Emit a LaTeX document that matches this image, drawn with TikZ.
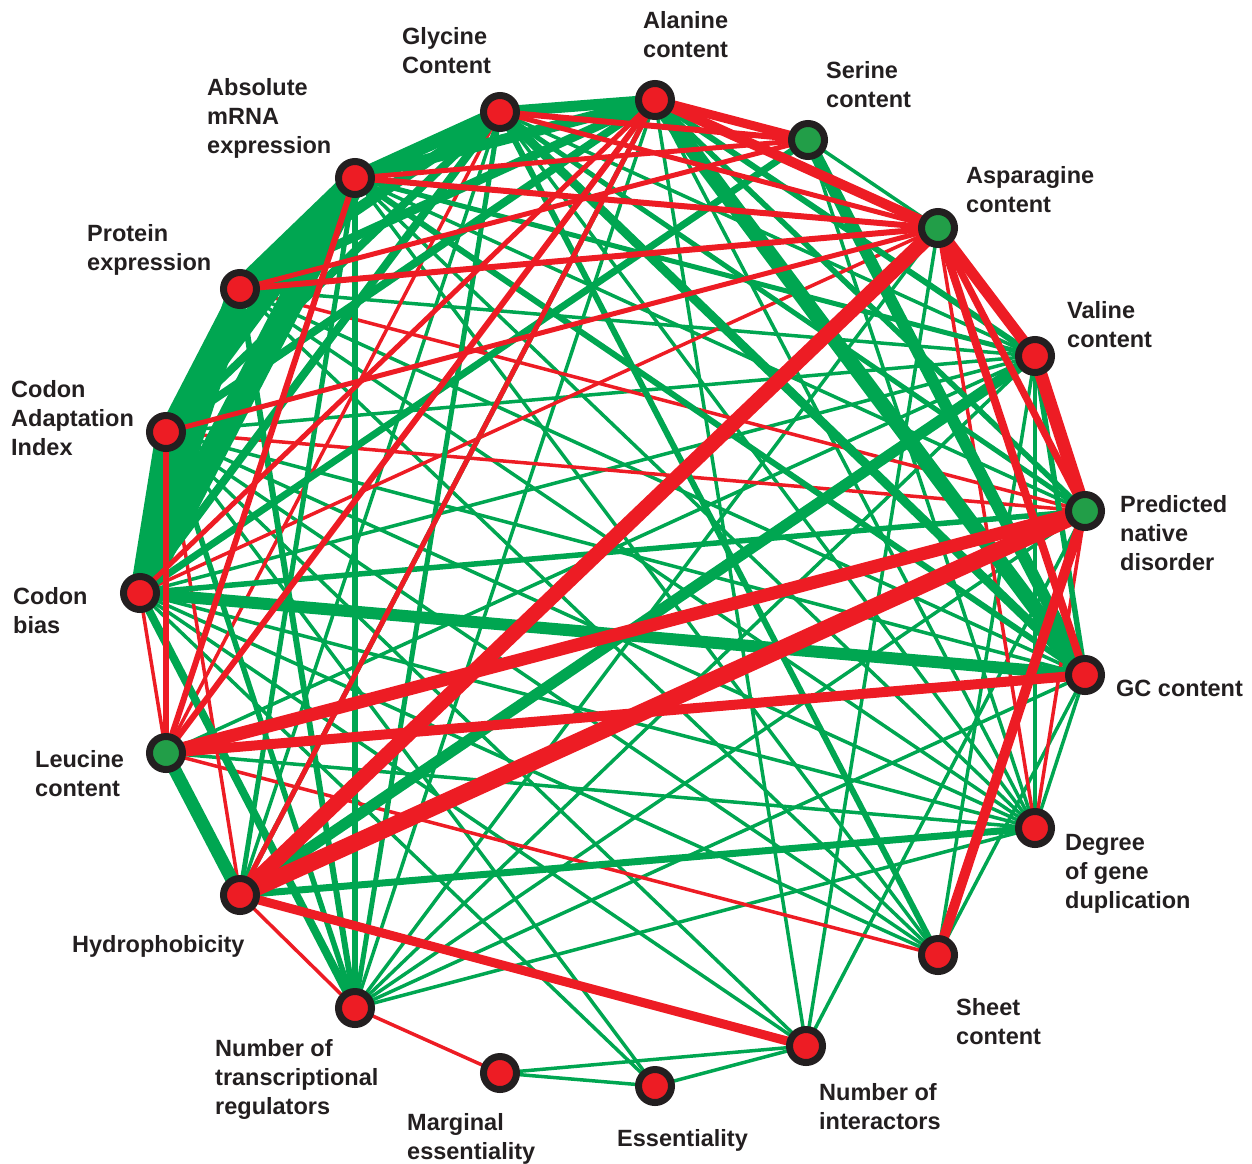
\documentclass[tikz,border=0pt]{standalone}
\usepackage{fontspec}
\setmainfont{Liberation Sans}
\definecolor{edgered}{RGB}{237,28,36}
\definecolor{edgegreen}{RGB}{0,166,81}
\definecolor{nodegreen}{RGB}{34,158,72}
\definecolor{ring}{RGB}{35,31,32}
\pgfdeclarelayer{edges}
\pgfsetlayers{edges,main}
\begin{document}
\begin{tikzpicture}[x=1pt, y=-1pt,
    vtx/.style={circle, draw=ring, line width=7pt, minimum size=33pt, inner sep=0pt},
    hit/.style={vtx, fill=edgered},
    neg/.style={vtx, fill=nodegreen},
    lbl/.style={anchor=north west, align=left, inner sep=0pt, text=ring, font=\fontsize{23.5}{29}\selectfont\bfseries},
    gr/.style={edgegreen},
    rd/.style={edgered}]
    \useasboundingbox (0,0) rectangle (1252,1163);
    % properties round the circle
    \node[hit] (ala) at (655,100) {};
    \node[neg] (ser) at (808,140) {};
    \node[neg] (asn) at (938,228) {};
    \node[hit] (val) at (1035,356) {};
    \node[neg] (dis) at (1085,511) {};
    \node[hit] (gc) at (1085,675) {};
    \node[hit] (dup) at (1035,828) {};
    \node[hit] (sht) at (938,955) {};
    \node[hit] (intr) at (806,1046) {};
    \node[hit] (ess) at (655,1086) {};
    \node[hit] (marg) at (500,1073) {};
    \node[hit] (treg) at (355,1008) {};
    \node[hit] (hyd) at (240,895) {};
    \node[neg] (leu) at (166,753) {};
    \node[hit] (cb) at (140,593) {};
    \node[hit] (cai) at (166,432) {};
    \node[hit] (pexp) at (240,289) {};
    \node[hit] (mrna) at (355,178) {};
    \node[hit] (gly) at (500,112) {};
    % labels
    \node[lbl] (ala-l) at (643,11) {Alanine\\content};
    \node[lbl] (gly-l) at (402,27) {Glycine\\Content};
    \node[lbl] (ser-l) at (826,61) {Serine\\content};
    \node[lbl] (asn-l) at (966,166) {Asparagine\\content};
    \node[lbl] (val-l) at (1067,301) {Valine\\content};
    \node[lbl] (dis-l) at (1120,495) {Predicted\\native\\disorder};
    \node[lbl] (gc-l) at (1116,680) {GC content};
    \node[lbl] (dup-l) at (1065,834) {Degree\\of gene\\duplication};
    \node[lbl] (sht-l) at (956,998) {Sheet\\content};
    \node[lbl] (intr-l) at (819,1083) {Number of\\interactors};
    \node[lbl] (ess-l) at (617,1129) {Essentiality};
    \node[lbl] (marg-l) at (407,1113) {Marginal\\essentiality};
    \node[lbl] (treg-l) at (215,1039) {Number of\\transcriptional\\regulators};
    \node[lbl] (hyd-l) at (72,935) {Hydrophobicity};
    \node[lbl] (leu-l) at (35,750) {Leucine\\content};
    \node[lbl] (cb-l) at (13,587) {Codon\\bias};
    \node[lbl] (cai-l) at (11,380) {Codon\\Adaptation\\Index};
    \node[lbl] (pexp-l) at (87,224) {Protein\\expression};
    \node[lbl] (mrna-l) at (207,78) {Absolute\\mRNA\\expression};
    \begin{pgfonlayer}{edges}
        % weak links
        \foreach \a/\b in {cb/dup, cb/sht, cb/intr, cb/ess, cb/val, cai/dup, cai/sht, cai/intr, cai/ess, cai/val, cai/gc,
            pexp/dup, pexp/sht, pexp/val, pexp/gc, mrna/dup, mrna/sht, mrna/dis, gly/dup, gly/val, gly/hyd,
            ala/intr, ala/dup, ala/leu, ala/treg, ser/asn, ser/dup, asn/treg, asn/intr, asn/gc, val/treg, val/leu,
            val/sht, val/dup, dis/intr, dis/treg, gc/dup, gc/sht, gc/treg, dup/treg, dup/leu, intr/marg, intr/ess, marg/ess}
            \draw[gr, line width=3.5pt] (\a.center) -- (\b.center);
        \foreach \a/\b in {cai/dis, cb/dis, pexp/dis, cb/asn, mrna/val, leu/sht, cb/leu, cai/hyd, hyd/treg,
            treg/marg, asn/dup, dis/dup, leu/gly}
            \draw[rd, line width=3.5pt] (\a.center) -- (\b.center);
        % stronger links
        \foreach \a/\b/\w in {cb/dis/5.5, cai/treg/5.5, pexp/treg/6, mrna/treg/6, gly/treg/5, mrna/gc/6, mrna/val/5,
            ala/val/6, ala/dis/5.5, gly/dis/5, val/gc/5.5, mrna/hyd/5, ala/hyd/5, gly/sht/6, cb/ser/7,
            cb/treg/8, hyd/dup/7, ser/gc/12, gly/gc/9, ala/gc/15, cb/gc/12, hyd/val/11, leu/hyd/13,
            cb/cai/20, cb/pexp/24, cb/mrna/26, cai/pexp/16, cai/mrna/18, pexp/mrna/20, mrna/gly/14, mrna/ala/11,
            gly/ala/11, pexp/gly/11, pexp/ala/9, cai/gly/8, cai/ala/8, cb/gly/8}
            \draw[gr, line width=\w pt] (\a.center) -- (\b.center);
        \foreach \a/\b/\w in {ala/ser/9, gly/ser/6, mrna/ser/5, pexp/ser/5, cb/ala/5, pexp/asn/6, mrna/asn/6,
            cai/asn/5, gly/asn/5, ala/asn/10, asn/dis/7,
            asn/gc/8, cai/leu/6, leu/ala/6, leu/mrna/6, hyd/ala/5,
            asn/val/11, val/dis/13, leu/dis/13, leu/gc/10, dis/sht/10, hyd/intr/9, hyd/asn/15, hyd/dis/17}
            \draw[rd, line width=\w pt] (\a.center) -- (\b.center);
    \end{pgfonlayer}
\end{tikzpicture}
\end{document}
